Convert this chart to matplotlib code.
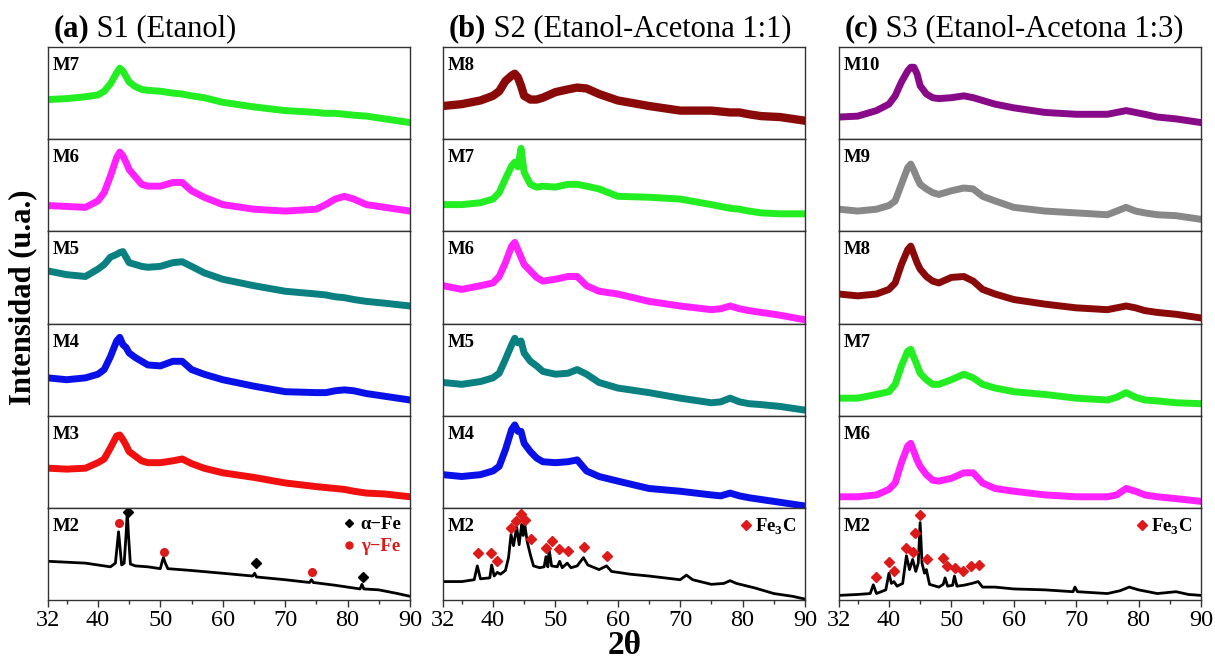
import matplotlib
matplotlib.use('Agg')
import matplotlib.pyplot as plt
from matplotlib.lines import Line2D

plt.rcParams['font.family'] = ['Liberation Serif', 'DejaVu Serif']
plt.rcParams['mathtext.fontset'] = 'custom'
plt.rcParams['mathtext.rm'] = 'Liberation Serif'
plt.rcParams['mathtext.bf'] = 'Liberation Serif:bold'

# ---- data (intensity in arbitrary units, each panel scaled 0..1) ----
tt = [32, 35, 38, 40, 41, 42, 43, 43.5, 44, 44.5, 45, 46, 47, 48, 50, 52, 53.5,
      55, 57, 60, 65, 70, 75, 76.5, 78, 79.5, 81, 83, 86, 90]

# S1 (Etanol)
s1_m7 = [0.43, 0.44, 0.46, 0.48, 0.52, 0.60, 0.72, 0.77, 0.74, 0.68, 0.62, 0.57, 0.54, 0.53, 0.52, 0.50, 0.49,
         0.47, 0.45, 0.40, 0.35, 0.31, 0.29, 0.28, 0.28, 0.27, 0.26, 0.25, 0.22, 0.18]
s1_m6 = [0.28, 0.27, 0.26, 0.33, 0.42, 0.60, 0.80, 0.86, 0.82, 0.75, 0.67, 0.59, 0.51, 0.49, 0.49, 0.53, 0.53,
         0.44, 0.37, 0.29, 0.24, 0.22, 0.24, 0.29, 0.35, 0.38, 0.35, 0.29, 0.26, 0.22]
s1_m5 = [0.57, 0.53, 0.51, 0.59, 0.64, 0.72, 0.75, 0.77, 0.78, 0.72, 0.66, 0.64, 0.62, 0.61, 0.62, 0.66, 0.67,
         0.62, 0.55, 0.48, 0.41, 0.35, 0.32, 0.31, 0.29, 0.28, 0.26, 0.24, 0.22, 0.19]
s1_m4 = [0.41, 0.39, 0.41, 0.45, 0.50, 0.64, 0.81, 0.85, 0.77, 0.74, 0.68, 0.63, 0.59, 0.55, 0.54, 0.59, 0.59,
         0.50, 0.45, 0.39, 0.32, 0.26, 0.25, 0.25, 0.27, 0.28, 0.27, 0.24, 0.21, 0.17]
s1_m3 = [0.43, 0.42, 0.43, 0.49, 0.53, 0.65, 0.78, 0.79, 0.74, 0.68, 0.61, 0.56, 0.51, 0.49, 0.49, 0.51, 0.53,
         0.48, 0.43, 0.38, 0.33, 0.27, 0.23, 0.22, 0.21, 0.20, 0.18, 0.16, 0.15, 0.12]
s1_m2_tt = [32, 35, 38, 40, 42, 42.8, 43.1, 43.3, 43.5, 43.8, 44.2, 44.5, 44.7, 44.9, 45.2, 46, 48, 50,
            50.3, 50.5, 50.8, 51.2, 55, 60, 64.8, 65.1, 65.4, 70, 73.9, 74.2, 74.5, 78, 82.0, 82.3,
            82.6, 85, 88, 90]
s1_m2 = [0.42, 0.41, 0.40, 0.38, 0.36, 0.40, 0.60, 0.74, 0.60, 0.38, 0.40, 0.70, 0.96, 0.70, 0.39, 0.37, 0.36, 0.34,
         0.42, 0.46, 0.40, 0.34, 0.32, 0.29, 0.26, 0.29, 0.25, 0.22, 0.19, 0.22, 0.19, 0.16, 0.12, 0.17,
         0.12, 0.11, 0.07, 0.04]
gamma_fe_tt = [43.34, 50.56, 74.25]
gamma_fe_y = [0.84, 0.52, 0.30]
alpha_fe_tt = [44.83, 65.26, 82.43]
alpha_fe_y = [0.96, 0.40, 0.245]

# S2 (Etanol-Acetona 1:1)
s2_m8 = [0.36, 0.38, 0.42, 0.47, 0.52, 0.63, 0.69, 0.71, 0.67, 0.58, 0.47, 0.43, 0.43, 0.45, 0.51, 0.54, 0.56,
         0.55, 0.49, 0.42, 0.36, 0.31, 0.31, 0.30, 0.29, 0.29, 0.27, 0.25, 0.24, 0.20]
s2_m7 = [0.29, 0.29, 0.31, 0.35, 0.42, 0.57, 0.71, 0.75, 0.70, 0.90, 0.64, 0.51, 0.48, 0.49, 0.48, 0.51, 0.51,
         0.49, 0.46, 0.38, 0.37, 0.35, 0.29, 0.27, 0.25, 0.24, 0.22, 0.20, 0.19, 0.19]
s2_m6 = [0.41, 0.37, 0.41, 0.44, 0.51, 0.66, 0.84, 0.88, 0.80, 0.72, 0.64, 0.57, 0.50, 0.46, 0.48, 0.51, 0.51,
         0.41, 0.35, 0.32, 0.24, 0.19, 0.15, 0.16, 0.19, 0.16, 0.14, 0.12, 0.09, 0.04]
s2_m5 = [0.36, 0.34, 0.37, 0.41, 0.46, 0.61, 0.77, 0.84, 0.79, 0.81, 0.68, 0.59, 0.54, 0.48, 0.45, 0.46, 0.50,
         0.45, 0.36, 0.30, 0.25, 0.19, 0.14, 0.15, 0.19, 0.15, 0.13, 0.12, 0.10, 0.06]
s2_m4 = [0.36, 0.34, 0.36, 0.40, 0.45, 0.63, 0.85, 0.90, 0.83, 0.83, 0.70, 0.61, 0.54, 0.50, 0.49, 0.50, 0.52,
         0.40, 0.34, 0.29, 0.21, 0.18, 0.14, 0.13, 0.16, 0.13, 0.11, 0.09, 0.06, 0.02]
s2_m2_tt = [32, 35, 37, 37.5, 38, 39.5, 39.8, 40.2, 40.7, 41.2, 42, 42.5, 42.9, 43.3, 43.8, 44.2, 44.6,
            44.85, 45.1, 45.5, 46.0, 46.5, 47.5, 48.2, 48.5, 48.8, 49.0, 49.4, 50.3, 50.7, 51.1, 51.9,
            52.5, 53.5, 54.5, 55.2, 57, 58.2, 59, 62, 65, 70, 71, 72, 75, 77, 78, 79, 82, 85, 88, 90]
s2_m2 = [0.20, 0.20, 0.22, 0.37, 0.23, 0.24, 0.38, 0.26, 0.30, 0.28, 0.32, 0.46, 0.71, 0.59, 0.79, 0.60, 0.82,
         0.70, 0.82, 0.63, 0.49, 0.37, 0.35, 0.36, 0.47, 0.36, 0.55, 0.37, 0.36, 0.42, 0.35, 0.40,
         0.35, 0.37, 0.46, 0.38, 0.33, 0.37, 0.31, 0.28, 0.26, 0.22, 0.27, 0.22, 0.17, 0.18, 0.21, 0.18,
         0.13, 0.07, 0.04, 0.01]
s2_fe3c_tt = [37.67, 39.75, 40.72, 42.86, 43.76, 44.57, 45.21, 46.06, 48.58, 49.43, 50.66, 52.05, 54.57, 58.2]
s2_fe3c_y = [0.51, 0.51, 0.42, 0.78, 0.86, 0.93, 0.87, 0.66, 0.56, 0.64, 0.55, 0.53, 0.57, 0.48]

# S3 (Etanol-Acetona 1:3)
s3_m10 = [0.24, 0.25, 0.31, 0.38, 0.47, 0.62, 0.74, 0.78, 0.78, 0.71, 0.58, 0.49, 0.45, 0.44, 0.45, 0.47, 0.45,
          0.42, 0.38, 0.34, 0.29, 0.27, 0.27, 0.29, 0.31, 0.29, 0.27, 0.24, 0.22, 0.18]
s3_m9 = [0.24, 0.22, 0.24, 0.28, 0.33, 0.51, 0.69, 0.73, 0.66, 0.58, 0.51, 0.46, 0.42, 0.40, 0.44, 0.47, 0.46,
         0.38, 0.33, 0.26, 0.22, 0.20, 0.18, 0.22, 0.26, 0.22, 0.20, 0.18, 0.17, 0.13]
s3_m8 = [0.32, 0.30, 0.32, 0.37, 0.44, 0.64, 0.80, 0.84, 0.75, 0.66, 0.59, 0.51, 0.46, 0.44, 0.50, 0.51, 0.46,
         0.37, 0.32, 0.26, 0.21, 0.17, 0.15, 0.17, 0.19, 0.17, 0.14, 0.12, 0.10, 0.06]
s3_m7 = [0.19, 0.19, 0.23, 0.26, 0.34, 0.54, 0.70, 0.72, 0.63, 0.55, 0.46, 0.39, 0.34, 0.34, 0.39, 0.45, 0.41,
         0.34, 0.30, 0.26, 0.23, 0.19, 0.17, 0.20, 0.25, 0.20, 0.17, 0.16, 0.14, 0.13]
s3_m6 = [0.12, 0.12, 0.14, 0.20, 0.27, 0.49, 0.67, 0.70, 0.61, 0.52, 0.45, 0.36, 0.30, 0.29, 0.32, 0.38, 0.38,
         0.27, 0.21, 0.18, 0.14, 0.12, 0.12, 0.14, 0.21, 0.18, 0.14, 0.12, 0.10, 0.07]
s3_m2_tt = [32, 35, 37, 37.5, 38, 39.5, 40.0, 40.4, 40.8, 41.3, 42.2, 42.8, 43.3, 43.8, 44.3, 44.7, 45.0,
            45.3, 45.7, 46.0, 46.5, 48, 48.7, 49.0, 49.4, 50.2, 50.5, 50.9, 52, 53.3, 54.3, 55, 57, 60,
            65, 69.5, 69.8, 70.2, 75, 77, 78.5, 80, 83, 86, 88, 90]
s3_m2 = [0.05, 0.06, 0.07, 0.165, 0.07, 0.11, 0.29, 0.18, 0.20, 0.15, 0.18, 0.48, 0.33, 0.44, 0.31, 0.40, 0.84,
         0.40, 0.29, 0.33, 0.17, 0.14, 0.17, 0.24, 0.15, 0.16, 0.26, 0.15, 0.16, 0.18, 0.20, 0.14, 0.14, 0.12,
         0.11, 0.09, 0.14, 0.09, 0.07, 0.10, 0.14, 0.11, 0.07, 0.09, 0.06, 0.05]
s3_fe3c_tt = [37.88, 40.02, 40.77, 42.70, 43.87, 44.14, 45.05, 46.12, 48.68, 49.33, 50.61, 51.89, 53.12, 54.46]
s3_fe3c_y = [0.25, 0.41, 0.31, 0.56, 0.52, 0.73, 0.92, 0.44, 0.46, 0.37, 0.35, 0.31, 0.37, 0.38]

titles = [('(a)', ' S1 (Etanol)'), ('(b)', ' S2 (Etanol-Acetona 1:1)'), ('(c)', ' S3 (Etanol-Acetona 1:3)')]
labels = [['M7', 'M6', 'M5', 'M4', 'M3', 'M2'],
          ['M8', 'M7', 'M6', 'M5', 'M4', 'M2'],
          ['M10', 'M9', 'M8', 'M7', 'M6', 'M2']]
broad = [[s1_m7, s1_m6, s1_m5, s1_m4, s1_m3],
         [s2_m8, s2_m7, s2_m6, s2_m5, s2_m4],
         [s3_m10, s3_m9, s3_m8, s3_m7, s3_m6]]
sharp_tt = [s1_m2_tt, s2_m2_tt, s3_m2_tt]
sharp = [s1_m2, s2_m2, s3_m2]
colors = [['#22ee22', '#ff22ff', '#0a8080', '#0a10e8', '#f01010'],
          ['#8a0a0a', '#22ee22', '#ff22ff', '#0a8080', '#0a10e8'],
          ['#880a88', '#888888', '#8a0a0a', '#22ee22', '#ff22ff']]

# ---- figure ----
fig = plt.figure(figsize=(12.15, 6.62), dpi=100)
lefts = [48, 443, 839]
ax_w = 362
top, bottom = 47, 600
row_h = (bottom - top) / 6
W, H = 1215, 662
red = '#dd1a1a'

for c in range(3):
    for r in range(6):
        y0 = top + r * row_h
        ax = fig.add_axes([lefts[c] / W, 1 - (y0 + row_h) / H, ax_w / W, row_h / H])
        ax.set_xlim(32, 90)
        ax.set_ylim(0, 1)
        ax.set_yticks([])
        for sp in ax.spines.values():
            sp.set_linewidth(1.0)
            sp.set_color('#333333')
        if r < 5:
            ax.plot(tt, broad[c][r], color=colors[c][r], lw=5 if (c, r) != (1, 0) else 6,
                    solid_joinstyle='round')
            ax.set_xticks([])
        else:
            ax.plot(sharp_tt[c], sharp[c], color='black', lw=2.0)
            ax.set_xticks([32, 40, 50, 60, 70, 80, 90])
            ax.set_xticks([35, 45, 55, 65, 75, 85], minor=True)
            ax.tick_params(axis='x', which='major', direction='out', length=5, width=1,
                           labelsize=17.5, pad=2, color='#333333')
            ax.tick_params(axis='x', which='minor', direction='out', length=3, width=1, color='#333333')
            if c == 0:
                ax.plot(gamma_fe_tt, gamma_fe_y, 'o', color=red, ms=5.5, ls='none')
                ax.plot(alpha_fe_tt, alpha_fe_y, 'D', color='black', ms=5, ls='none')
                h = [Line2D([], [], marker='D', color='black', ls='none', ms=4.5),
                     Line2D([], [], marker='o', color=red, ls='none', ms=5)]
                leg = ax.legend(h, ['α−Fe', 'γ−Fe'], loc='upper right', frameon=False,
                                handletextpad=0.2, borderaxespad=0.05, labelspacing=0.25,
                                handlelength=0.8, prop={'weight': 'bold', 'size': 13.5})
                leg.get_texts()[1].set_color(red)
            else:
                fx = s2_fe3c_tt if c == 1 else s3_fe3c_tt
                fy = s2_fe3c_y if c == 1 else s3_fe3c_y
                ax.plot(fx, fy, 'D', color=red, ms=5, ls='none')
                h = [Line2D([], [], marker='D', color=red, ls='none', ms=5)]
                ax.legend(h, [r'Fe$_\mathbf{3}$C'], loc='upper right', frameon=False,
                          handletextpad=0.1, borderaxespad=0.05, handlelength=0.8,
                          prop={'weight': 'bold', 'size': 13.5})
        ax.text(0.012, 0.89, labels[c][r], transform=ax.transAxes, ha='left', va='top',
                fontsize=13.5, fontweight='bold')
        if r == 0:
            t1 = ax.text(0.015, 1.04, titles[c][0], transform=ax.transAxes, ha='left',
                         va='bottom', fontsize=22, fontweight='bold')
            ax.annotate(titles[c][1], xy=(1, 0), xycoords=t1, ha='left', va='bottom', fontsize=22)

fig.text(23 / W, 1 - 297 / H, 'Intensidad (u.a.)', rotation=90, ha='center', va='center',
         fontsize=22, fontweight='bold')
fig.text(625 / W, 1 - 645 / H, '2θ', ha='center', va='center', fontsize=24, fontweight='bold')

fig.savefig('out.png', dpi=100)
